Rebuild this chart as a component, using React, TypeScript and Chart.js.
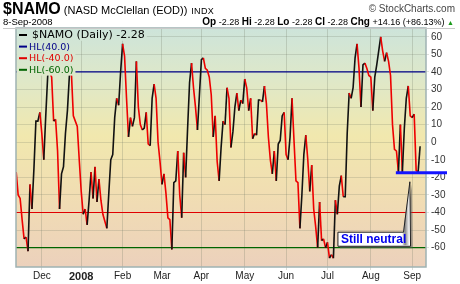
import React, { useEffect, useRef } from 'react';
import { Chart, registerables } from 'chart.js';

Chart.register(...registerables);

// ---- data ----
const monthLabels = ['Dec', '2008', 'Feb', 'Mar', 'Apr', 'May', 'Jun', 'Jul', 'Aug', 'Sep'];
const monthStartIndex = [13, 33, 54, 74, 94, 116, 137, 158, 180, 201];
const yTickValues = [60, 50, 40, 30, 20, 10, 0, -10, -20, -30, -40, -50, -60];

// $NAMO daily values, 13-Nov-2007 .. 8-Sep-2008 (trading days)
const namo = [
  -17, -30, -32, -44, -55, -54, -62, -24, -38, -15,
  12, 12, 17, 5, -10, 15, 38, 40, 37, 12,
  13, -5, -38, -18, -14, 5, 18, 38, 40, 15,
  12, 9, -10, -28, -41, -38, -47, -33, -17, -32,
  -14, -34, -21, -33, -41, -45, -49, -29, -10, -7,
  14, 25, 21, 40, 56, 49, 25, 3, 14, 9,
  14, 46, 20, 10, 7, 8, 17, -1, -2, 25,
  33, 25, 0, -11, -24, -18, -29, -43, -44, -61,
  -23, -22, -5, -30, -43, -6, -20, 8, 34, 45,
  31, 20, 7, 27, 47, 48, 42, 41, 37, 27,
  3, 15, -11, -22, -3, 12, 10, 31, 25, -3,
  6, 20, 28, 18, 24, 22, 36, 31, 18, 25,
  2, 5, 4, 24, 24, 23, 32, 22, 3, -10,
  -18, -5, -22, -1, 1, 15, 17, -7, -10, 3,
  25, 1, -22, -23, -49, -30, -7, 4, -10, -28,
  -13, -38, -48, -60, -34, -56, -55, -60, -57, -66,
  -64, -66, -33, -41, -25, -19, -31, -31, 5, 28,
  25, 31, 48, 56, 42, 20, 44, 45, 42, 38,
  37, 18, 37, 44, 52, 60, 52, 46, 51, 46,
  38, 10, -4, -5, -17, 10, -17, 8, 25, 32,
  15, 14, 16, -16, -17, -2.28,
];

const hlLevels = [40, -40, -60];
const hlNames = ['HL(40.0)', 'HL(-40.0)', 'HL(-60.0)'];
const seriesName = '$NAMO (Daily) -2.28';
const supportLevel = -17.3;
const supportFrom = 192.7;
const calloutText = 'Still neutral';
const calloutTip = { x: 199.8, y: -22.5 };
const calloutBox = { x0: 163.3, x1: 196.6, top: -51.2, bottom: -59.2 };

// ---- styles ----
const FONT = '"Liberation Sans", Arial, sans-serif';
const LEGEND_FONT = '"DejaVu Sans", Verdana, sans-serif';
const hlColors = ['#000088', '#e00000', '#006400'];
const X_MIN = -0.1;
const X_MAX = 208;
const Y_MIN = -71;
const Y_MAX = 65;

function bgGradient(ctx: CanvasRenderingContext2D, top: number, bottom: number) {
  const g = ctx.createLinearGradient(0, top, 0, bottom);
  g.addColorStop(0, '#cde4da');
  g.addColorStop(0.22, '#dfe8c8');
  g.addColorStop(0.45, '#f1e8ae');
  g.addColorStop(0.68, '#f1deb2');
  g.addColorStop(1, '#ecd1bc');
  return g;
}

export default function App() {
  const ref = useRef<HTMLCanvasElement>(null);

  useEffect(() => {
    const canvas = ref.current;
    if (!canvas) return;

    const bgPlugin = {
      id: 'bgPlugin',
      beforeDraw(chart: any) {
        const { ctx, chartArea: a } = chart;
        ctx.save();
        ctx.fillStyle = bgGradient(ctx, a.top, a.bottom);
        ctx.fillRect(a.left, a.top, a.right - a.left, a.bottom - a.top);
        ctx.restore();
      },
    };

    const overlayPlugin = {
      id: 'overlayPlugin',
      afterDatasetsDraw(chart: any) {
        const { ctx, chartArea: a } = chart;
        ctx.save();
        ctx.textBaseline = 'middle';
        const rows = [
          { text: seriesName, color: '#000000', size: 11, tx: 15 },
          ...hlNames.map((n, i) => ({ text: n, color: hlColors[i], size: 9.5, tx: 12 })),
        ];
        const rowH = 11.6;
        const x0 = a.left + 1;
        let y = a.top + 7;
        rows.forEach((r) => {
          ctx.font = `${r.size}px ${LEGEND_FONT}`;
          const tw = ctx.measureText(r.text).width;
          ctx.fillStyle = bgGradient(ctx, a.top, a.bottom);
          ctx.fillRect(x0, y - rowH / 2, r.tx + tw + 2, rowH);
          ctx.strokeStyle = r.color;
          ctx.lineWidth = 2;
          ctx.beginPath();
          ctx.moveTo(x0 + 2, y);
          ctx.lineTo(x0 + 10, y);
          ctx.stroke();
          ctx.fillStyle = r.color;
          ctx.fillText(r.text, x0 + r.tx, y + 0.5);
          y += rowH;
        });
        ctx.restore();
      },
      afterDraw(chart: any) {
        const { ctx, chartArea: a, scales } = chart;
        const xs = scales.x;
        const ys = scales.y;
        ctx.save();
        // plot border
        ctx.strokeStyle = '#9fb2b3';
        ctx.lineWidth = 1.5;
        ctx.strokeRect(a.left, a.top, a.right - a.left, a.bottom - a.top);

        // support line
        const sy = ys.getPixelForValue(supportLevel);
        ctx.strokeStyle = '#1414ff';
        ctx.lineWidth = 3;
        ctx.beginPath();
        ctx.moveTo(xs.getPixelForValue(supportFrom), sy);
        ctx.lineTo(447, sy);
        ctx.stroke();

        // callout
        const L = xs.getPixelForValue(calloutBox.x0);
        const R = xs.getPixelForValue(calloutBox.x1);
        const T = ys.getPixelForValue(calloutBox.top);
        const B = ys.getPixelForValue(calloutBox.bottom);
        const tx = xs.getPixelForValue(calloutTip.x);
        const ty = ys.getPixelForValue(calloutTip.y);
        const shape = () => {
          ctx.beginPath();
          ctx.moveTo(L, T);
          ctx.lineTo(R, T);
          ctx.lineTo(tx, ty);
          ctx.lineTo(R + 7, B);
          ctx.lineTo(L, B);
          ctx.closePath();
        };
        ctx.save();
        ctx.translate(2, 2);
        shape();
        ctx.fillStyle = 'rgba(90,90,90,0.55)';
        ctx.fill();
        ctx.restore();
        shape();
        ctx.fillStyle = '#ffffff';
        ctx.fill();
        // tab shading
        ctx.beginPath();
        ctx.moveTo(R - 1, T + 1);
        ctx.lineTo(tx, ty + 2);
        ctx.lineTo(R + 6, B - 1);
        ctx.lineTo(R - 1, B - 1);
        ctx.closePath();
        const tg = ctx.createLinearGradient(R - 2, 0, R + 6, 0);
        tg.addColorStop(0, '#ffffff');
        tg.addColorStop(0.45, '#8a8a8a');
        tg.addColorStop(1, '#ffffff');
        ctx.fillStyle = tg;
        ctx.fill();
        shape();
        ctx.strokeStyle = '#222';
        ctx.lineWidth = 1;
        ctx.stroke();
        ctx.fillStyle = '#0000ee';
        ctx.font = `bold 12px ${FONT}`;
        ctx.textBaseline = 'middle';
        ctx.fillText(calloutText, L + 3, (T + B) / 2 + 0.5);
        ctx.restore();
      },
    };

    const priceData = namo.map((v, i) => ({ x: i, y: v }));
    const hlDatasets = hlLevels.map((lvl, i) => ({
      label: hlNames[i],
      data: [
        { x: X_MIN, y: lvl },
        { x: X_MAX, y: lvl },
      ],
      borderColor: hlColors[i],
      borderWidth: 1.2,
      pointRadius: 0,
      tension: 0,
    }));

    const chart = new Chart(canvas, {
      type: 'line',
      data: {
        datasets: [
          {
            label: seriesName,
            data: priceData,
            borderWidth: 1.6,
            pointRadius: 0,
            tension: 0,
            borderColor: '#000',
            segment: {
              borderColor: (c: any) => (c.p1.parsed.y >= c.p0.parsed.y ? '#111111' : '#ee0000'),
            },
          },
          ...hlDatasets,
        ],
      },
      options: {
        animation: false,
        responsive: false,
        maintainAspectRatio: false,
        layout: { padding: { left: 16, top: 28, right: 0, bottom: 0 } },
        plugins: { legend: { display: false }, tooltip: { enabled: false } },
        scales: {
          x: {
            type: 'linear',
            min: X_MIN,
            max: X_MAX,
            afterBuildTicks: (s: any) => {
              s.ticks = monthStartIndex.map((v) => ({ value: v }));
            },
            afterFit: (s: any) => {
              s.height = 17;
            },
            ticks: {
              autoSkip: false,
              maxRotation: 0,
              padding: 0,
              color: '#222',
              callback: (_v: any, idx: number) => monthLabels[idx],
              font: (c: any) => ({
                family: FONT,
                size: c.index === 1 ? 11 : 10,
                weight: c.index === 1 ? 'bold' : 'normal',
              }),
            },
            grid: { color: 'rgba(110,120,100,0.25)', tickLength: 3, lineWidth: 1 },
            border: { display: false },
          },
          y: {
            position: 'right',
            min: Y_MIN,
            max: Y_MAX,
            afterBuildTicks: (s: any) => {
              s.ticks = yTickValues.map((v) => ({ value: v }));
            },
            afterFit: (s: any) => {
              s.width = 34;
            },
            ticks: { color: '#333', padding: 2, font: { family: FONT, size: 10 } },
            grid: { color: 'rgba(110,120,100,0.22)', tickLength: 3, lineWidth: 1 },
            border: { display: false },
          },
        },
      },
      plugins: [bgPlugin, overlayPlugin],
    });

    return () => chart.destroy();
  }, []);

  return (
    <div
      style={{
        position: 'fixed',
        left: 0,
        top: 0,
        width: 460,
        height: 284,
        background: '#fff',
        fontFamily: FONT,
        color: '#000',
        overflow: 'hidden',
      }}
    >
      <canvas ref={ref} width={460} height={284} style={{ position: 'absolute', left: 0, top: 0 }} />
      <div style={{ position: 'absolute', left: 3, top: 1, whiteSpace: 'nowrap', lineHeight: '15px' }}>
        <span style={{ fontWeight: 'bold', fontSize: 16 }}>$NAMO</span>
        <span style={{ fontSize: 11 }}> (NASD McClellan (EOD))</span>
        <span style={{ fontSize: 9, marginLeft: 4, letterSpacing: 0.3 }}>INDX</span>
      </div>
      <div style={{ position: 'absolute', right: 5, top: 3, fontSize: 10, color: '#444', whiteSpace: 'nowrap', lineHeight: '12px' }}>
        © StockCharts.com
      </div>
      <div style={{ position: 'absolute', left: 3, top: 16, fontSize: 9.5, whiteSpace: 'nowrap', lineHeight: '12px' }}>
        8-Sep-2008
      </div>
      <div style={{ position: 'absolute', right: 6, top: 15, fontSize: 9, whiteSpace: 'nowrap', lineHeight: '13px' }}>
        <b style={{ fontSize: 10 }}>Op</b> -2.28 <b style={{ fontSize: 10 }}>Hi</b> -2.28{' '}
        <b style={{ fontSize: 10 }}>Lo</b> -2.28 <b style={{ fontSize: 10 }}>Cl</b> -2.28{' '}
        <b style={{ fontSize: 10 }}>Chg</b> +14.16 (+86.13%){' '}
        <span style={{ color: '#1a9a1a', fontSize: 7 }}>▲</span>
      </div>
      <div style={{ position: 'absolute', left: 3, top: 28, width: 452, height: 1, background: '#c8c8c8' }} />
    </div>
  );
}
